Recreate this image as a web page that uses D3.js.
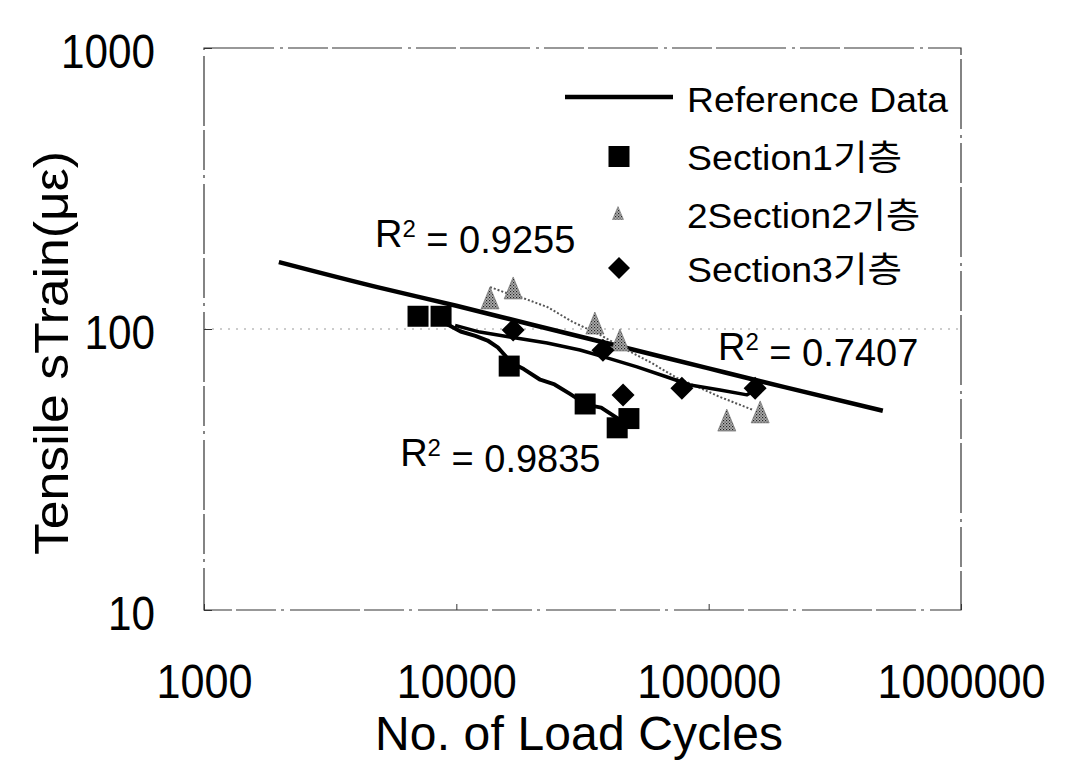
<!DOCTYPE html>
<html>
<head>
<meta charset="utf-8">
<script src="https://cdn.jsdelivr.net/npm/d3@7"></script>
<style>
  html, body { margin: 0; padding: 0; background: #fff; }
  svg { display: block; }
  text { font-family: 'Liberation Sans', Arial, 'Noto Sans CJK KR', sans-serif; fill: #000; }
</style>
</head>
<body>
<svg id="chart" width="1077" height="779"></svg>
<script>
// ---------- data ----------
const xTicks = [1000, 10000, 100000, 1000000];
const yTicks = [10, 100, 1000];

const refCycles = [1980, 5000, 10000, 20000, 50000, 100000, 200000, 490000];
const refStrain = [173, 140, 121, 103.5, 84.5, 72.4, 62.1, 51.2];

const s1Cycles = [7050, 8700, 16200, 32400, 43400, 48300];
const s1Strain = [111, 111, 73.8, 54.1, 44.5, 48];
const s1TrendCycles = [8850, 10400, 11900, 13300, 14600, 15600, 16300, 18500, 21500, 24500, 28000, 33000, 37500, 41500, 44500];
const s1TrendStrain = [106, 98, 94.5, 91, 86, 80.5, 76.3, 72, 66, 63.5, 59, 53.7, 52.5, 49.5, 47.5];

const s2Cycles = [13600, 16800, 35400, 44500, 118000, 160000];
const s2Strain = [129, 140, 105, 91.4, 47.4, 50.7];
const s2TrendCycles = [13600, 15900, 17900, 22900, 29000, 37100, 47400, 58500, 74800, 92400, 110900, 150000];
const s2TrendStrain = [141, 134, 130, 119.8, 105.9, 95.3, 84.2, 76.3, 67.0, 61.7, 57.3, 51.5];

const s3Cycles = [16800, 38100, 45800, 78300, 152800];
const s3Strain = [99.1, 84.1, 58.2, 61.6, 61.6];
const s3TrendCycles = [9890, 12400, 16300, 22900, 30900, 39600, 52000, 68400, 84400, 110900, 141900, 152800];
const s3TrendStrain = [103, 97.5, 93.7, 89.2, 84.2, 78.9, 73.3, 67.5, 63.2, 60.7, 58.3, 60.7];

const r2Values = ["0.9255", "0.7407", "0.9835"];
const r2Cycles = [4760, 108900, 5990];
const r2Strain = [196, 77.6, 32.5];

const legendLabels = ["Reference Data", "Section1기층", "2Section2기층", "Section3기층"];

const xTitle = "No. of Load Cycles";
const yTitle = "Tensile sTrain(με)";

// ---------- layout ----------
const svg = d3.select("#chart");
const L = 204, R = 961, T = 48, B = 610;

const x = d3.scaleLog().domain([1000, 1000000]).range([L, R]);
const y = d3.scaleLog().domain([10, 1000]).range([B, T]);

// hatch pattern for grey triangles
const defs = svg.append("defs");
const pat = defs.append("pattern").attr("id", "hatch")
  .attr("width", 3).attr("height", 3).attr("patternUnits", "userSpaceOnUse");
pat.append("rect").attr("width", 3).attr("height", 3).attr("fill", "#b0b0b0");
pat.append("rect").attr("x", 0).attr("y", 0).attr("width", 1.2).attr("height", 1.2).attr("fill", "#222");
pat.append("rect").attr("x", 1.5).attr("y", 1.5).attr("width", 1.2).attr("height", 1.2).attr("fill", "#444");

// frame (scanned, broken look)
svg.append("rect")
  .attr("x", L).attr("y", T).attr("width", R - L).attr("height", B - T)
  .attr("fill", "none").attr("stroke", "#333").attr("stroke-width", 1.2)
  .attr("stroke-dasharray", "70 6 3 5 40 4");

// faint gridline at 100
svg.append("line")
  .attr("x1", L).attr("x2", R).attr("y1", y(100)).attr("y2", y(100))
  .attr("stroke", "#999").attr("stroke-width", 1).attr("stroke-dasharray", "2 6");

// axes
const fmt = d3.format("d");
const xAxis = svg.append("g").attr("transform", `translate(0,${B})`)
  .call(d3.axisBottom(x).tickValues(xTicks).tickFormat(fmt).tickSize(-6).tickPadding(0));
xAxis.select(".domain").remove();
xAxis.selectAll(".tick line").attr("stroke", "#333");
xAxis.selectAll(".tick text")
  .attr("y", 87.5).attr("dy", 0)
  .style("font-size", "48px").attr("fill", "#000")
  .attr("textLength", d => fmt(d).length * 24)
  .attr("lengthAdjust", "spacingAndGlyphs");

const yAxis = svg.append("g").attr("transform", `translate(${L},0)`)
  .call(d3.axisLeft(y).tickValues(yTicks).tickFormat(fmt).tickSize(-8).tickPadding(0));
yAxis.select(".domain").remove();
yAxis.selectAll(".tick line").attr("stroke", "#333");
yAxis.selectAll(".tick text")
  .attr("x", -49).attr("y", 19.5).attr("dy", 0)
  .style("font-size", "48px").attr("fill", "#000")
  .attr("textLength", d => fmt(d).length * 23.5)
  .attr("lengthAdjust", "spacingAndGlyphs");

// axis titles
svg.append("text")
  .attr("x", 579).attr("y", 750)
  .attr("text-anchor", "middle")
  .style("font-size", "48px")
  .attr("textLength", 408).attr("lengthAdjust", "spacing")
  .text(xTitle);

svg.append("text")
  .attr("transform", `translate(68,353) rotate(-90)`)
  .attr("text-anchor", "middle")
  .style("font-size", "49px")
  .attr("textLength", 404).attr("lengthAdjust", "spacingAndGlyphs")
  .text(yTitle);

// line generators
const zip = (a, b) => a.map((v, i) => [v, b[i]]);
const lineSmooth = d3.line().x(d => x(d[0])).y(d => y(d[1])).curve(d3.curveMonotoneX);
const lineLin = d3.line().x(d => x(d[0])).y(d => y(d[1]));

// reference line
svg.append("path").datum(zip(refCycles, refStrain))
  .attr("d", lineSmooth)
  .attr("fill", "none").attr("stroke", "#000").attr("stroke-width", 4.5);

// Section2 trend (grey dotted)
svg.append("path").datum(zip(s2TrendCycles, s2TrendStrain))
  .attr("d", lineLin)
  .attr("fill", "none").attr("stroke", "#555").attr("stroke-width", 2)
  .attr("stroke-dasharray", "2 2");

// Section1 trend
svg.append("path").datum(zip(s1TrendCycles, s1TrendStrain))
  .attr("d", lineLin)
  .attr("fill", "none").attr("stroke", "#000").attr("stroke-width", 4)
  .attr("stroke-linejoin", "round");

// Section3 trend
svg.append("path").datum(zip(s3TrendCycles, s3TrendStrain))
  .attr("d", lineLin)
  .attr("fill", "none").attr("stroke", "#000").attr("stroke-width", 3.5)
  .attr("stroke-linejoin", "round");

// markers
const sqSize = 21;
svg.append("g").selectAll("rect").data(zip(s1Cycles, s1Strain)).join("rect")
  .attr("x", d => x(d[0]) - sqSize / 2).attr("y", d => y(d[1]) - sqSize / 2)
  .attr("width", sqSize).attr("height", sqSize).attr("fill", "#000");

const triPath = (cx, cy, w, h) => `M${cx},${cy - h / 2}L${cx + w / 2},${cy + h / 2}L${cx - w / 2},${cy + h / 2}Z`;
svg.append("g").selectAll("path").data(zip(s2Cycles, s2Strain)).join("path")
  .attr("d", d => triPath(x(d[0]), y(d[1]), 18, 22))
  .attr("fill", "url(#hatch)").attr("stroke", "#666").attr("stroke-width", 0.6);

const diaPath = (cx, cy, r) => `M${cx},${cy - r}L${cx + r},${cy}L${cx},${cy + r}L${cx - r},${cy}Z`;
svg.append("g").selectAll("path").data(zip(s3Cycles, s3Strain)).join("path")
  .attr("d", d => diaPath(x(d[0]), y(d[1]), 11.5))
  .attr("fill", "#000");

// R² labels
const r2 = svg.append("g").selectAll("text").data(r2Values.map((v, i) => ({ v, cx: r2Cycles[i], cy: r2Strain[i] })))
  .join("text")
  .attr("x", d => x(d.cx)).attr("y", d => y(d.cy))
  .style("font-size", "38px");
r2.append("tspan").text("R");
r2.append("tspan").attr("dy", "-0.42em").style("font-size", "24px").text("2");
r2.append("tspan").attr("dy", "0.42em").text(d => " = " + d.v);

// legend
const lg = svg.append("g");
const rowsY = [112, 170, 228, 282];
const rowW = [261, 215, 233, 215];
const symX = 619;
lg.append("line").attr("x1", 565).attr("x2", 673).attr("y1", 97).attr("y2", 97)
  .attr("stroke", "#000").attr("stroke-width", 4.5);
lg.append("rect").attr("x", symX - 10.5).attr("y", 146).attr("width", 21).attr("height", 21).attr("fill", "#000");
lg.append("path").attr("d", triPath(symX - 1, 213, 11, 13))
  .attr("fill", "url(#hatch)").attr("stroke", "#666").attr("stroke-width", 0.5);
lg.append("path").attr("d", diaPath(symX, 268, 11)).attr("fill", "#000");
lg.selectAll("text").data(legendLabels).join("text")
  .attr("x", 687).attr("y", (d, i) => rowsY[i])
  .style("font-size", "35px")
  .attr("textLength", (d, i) => rowW[i]).attr("lengthAdjust", "spacingAndGlyphs")
  .text(d => d);
</script>
</body>
</html>
